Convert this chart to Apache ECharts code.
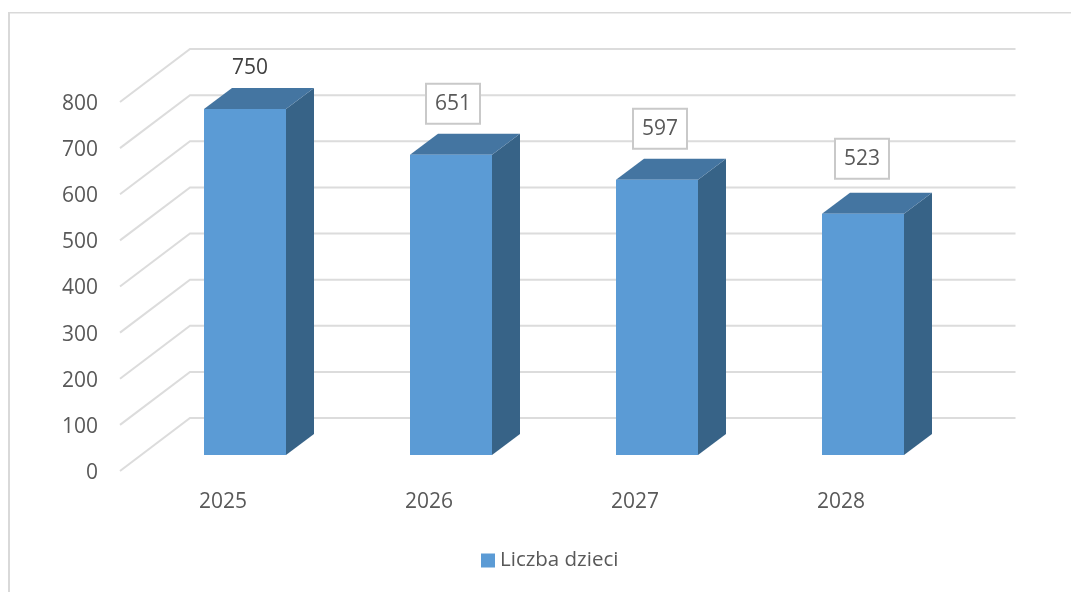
<!DOCTYPE html>
<html>
<head>
<meta charset="utf-8">
<style>
  html, body { margin: 0; padding: 0; background: #fff; }
  #main { width: 1071px; height: 592px; }
</style>
</head>
<body>
<div id="main"></div>
<script src="https://cdn.jsdelivr.net/npm/echarts@6/dist/echarts.min.js"></script>
<script>
const years = ['2025', '2026', '2027', '2028'];
const liczbaDzieci = [750, 651, 597, 523];
const wallTicks = [0, 100, 200, 300, 400, 500, 600, 700, 800];
const seriesName = 'Liczba dzieci';

// podpisy byly w oryginale przesuwane recznie
const labelShiftX = [5, 2, 3, -1];
const labelShiftY = [-41, -51, -51, -55];
const labelBoxed = [false, true, true, true];

const font = '"Open Sans", sans-serif';
const textColor = '#595959';
const wallDepth = [70, -53];   // przesuniecie tylnej sciany
const barOffset = [22, -16];   // przod slupka wzgledem plaszczyzny osi
const barDepth = [28, -21];
const barWidth = 82;

const chart = echarts.init(document.getElementById('main'));

function renderWall(params, api) {
  const sys = params.coordSys;
  const y = api.coord([0, api.value(0)])[1];
  return {
    type: 'polyline',
    silent: true,
    shape: {
      points: [
        [sys.x, y],
        [sys.x + wallDepth[0], y + wallDepth[1]],
        [sys.x + sys.width + wallDepth[0] + 1.5, y + wallDepth[1]]
      ]
    },
    style: { stroke: '#dcdcdc', lineWidth: 2, fill: null }
  };
}

function renderBar(params, api) {
  const i = api.value(0);
  const top = api.coord([i, api.value(1)]);
  const base = api.coord([i, 0]);
  const x0 = top[0] + barOffset[0] - barWidth / 2;
  const x1 = x0 + barWidth;
  const yTop = top[1] + barOffset[1];
  const yBase = base[1] + barOffset[1];
  const dx = barDepth[0], dy = barDepth[1];
  const boxed = labelBoxed[i];
  return {
    type: 'group',
    children: [
      {
        type: 'polygon',
        shape: { points: [[x1, yTop], [x1 + dx, yTop + dy], [x1 + dx, yBase + dy], [x1, yBase]] },
        style: { fill: '#376387' }
      },
      {
        type: 'polygon',
        shape: { points: [[x0, yTop], [x0 + dx, yTop + dy], [x1 + dx, yTop + dy], [x1, yTop]] },
        style: { fill: '#4475a1' }
      },
      {
        type: 'rect',
        shape: { x: x0, y: yTop, width: barWidth, height: yBase - yTop },
        style: { fill: '#5b9bd5' }
      },
      {
        type: 'text',
        x: (x0 + x1) / 2 + labelShiftX[i],
        y: yTop + labelShiftY[i],
        style: {
          text: String(api.value(1)),
          font: '21px ' + font,
          fill: boxed ? textColor : '#404040',
          align: 'center',
          verticalAlign: 'middle',
          backgroundColor: boxed ? '#fff' : 'transparent',
          borderColor: boxed ? '#c9c9c9' : 'transparent',
          borderWidth: boxed ? 2 : 0,
          padding: [9, 8, 8, 8]
        }
      }
    ]
  };
}

const option = {
  animation: false,
  backgroundColor: '#fff',
  grid: { left: 120, width: 824, top: 102, bottom: 121 },
  xAxis: {
    type: 'category',
    data: years,
    axisLine: { show: false },
    axisTick: { show: false },
    axisLabel: { color: textColor, fontSize: 21, fontFamily: font, margin: 21 }
  },
  yAxis: {
    type: 'value',
    min: 0,
    max: 800,
    interval: 100,
    axisLine: { show: false },
    axisTick: { show: false },
    splitLine: { show: false },
    axisLabel: {
      color: textColor,
      fontSize: 21,
      fontFamily: font,
      margin: 22,
      formatter: '{t|{value}}',
      rich: { t: { color: textColor, fontSize: 21, fontFamily: font, padding: [4, 0, 0, 0] } }
    }
  },
  legend: {
    data: [seriesName],
    left: 481,
    top: 550,
    icon: 'rect',
    itemWidth: 14,
    itemHeight: 14,
    itemGap: 0,
    padding: 0,
    textStyle: { color: textColor, fontSize: 20.5, fontFamily: font, padding: [2, 0, 0, 0] }
  },
  graphic: [
    { type: 'rect', silent: true, shape: { x: 8, y: 12, width: 1063, height: 1.5 }, style: { fill: '#d9d9d9' } },
    { type: 'rect', silent: true, shape: { x: 8, y: 12, width: 2, height: 580 }, style: { fill: '#d9d9d9' } }
  ],
  series: [
    {
      name: 'sciana',
      type: 'custom',
      silent: true,
      renderItem: renderWall,
      data: wallTicks.map(v => [v]),
      encode: { y: 0 },
      z: 1
    },
    {
      name: seriesName,
      type: 'custom',
      renderItem: renderBar,
      itemStyle: { color: '#5b9bd5' },
      data: liczbaDzieci.map((v, i) => [i, v]),
      encode: { x: 0, y: 1 },
      z: 2
    }
  ]
};

chart.setOption(option);
</script>
</body>
</html>
